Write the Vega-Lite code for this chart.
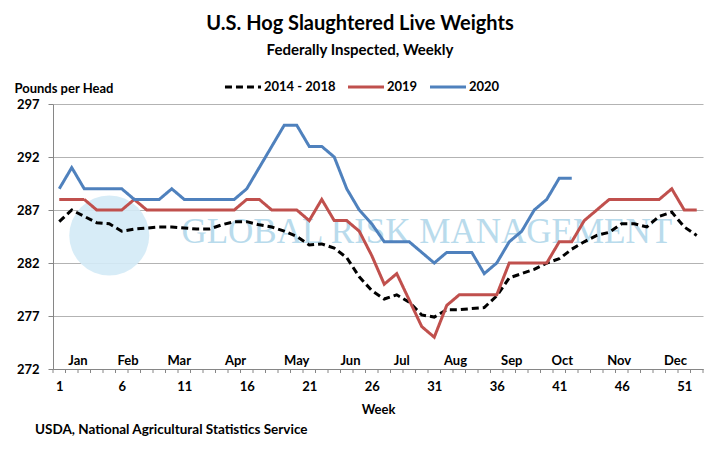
{
  "$schema": "https://vega.github.io/schema/vega-lite/v6.json",
  "width": 650,
  "height": 265,
  "autosize": "none",
  "padding": {"left": 53, "top": 104, "right": 18, "bottom": 82},
  "background": "white",
  "title": {
    "text": "U.S. Hog Slaughtered Live Weights",
    "subtitle": "Federally Inspected, Weekly",
    "anchor": "middle",
    "frame": "group",
    "dx": -18,
    "offset": 9,
    "font": "Lato",
    "fontSize": 20,
    "fontWeight": "bold",
    "color": "#000000",
    "subtitleFont": "Lato",
    "subtitleFontSize": 15,
    "subtitleFontWeight": "bold",
    "subtitleColor": "#000000",
    "subtitlePadding": 9
  },
  "config": {
    "view": {"stroke": null},
    "axis": {"labelFont": "Lato", "titleFont": "Lato", "labelColor": "#000000", "titleColor": "#000000"},
    "legend": {"labelFont": "Lato"}
  },
  "datasets": {
    "weights": [
      {"week": 1, "series": "2014 - 2018", "value": 285.9},
      {"week": 2, "series": "2014 - 2018", "value": 287.0},
      {"week": 3, "series": "2014 - 2018", "value": 286.4},
      {"week": 4, "series": "2014 - 2018", "value": 285.8},
      {"week": 5, "series": "2014 - 2018", "value": 285.7},
      {"week": 6, "series": "2014 - 2018", "value": 285.0},
      {"week": 7, "series": "2014 - 2018", "value": 285.2},
      {"week": 8, "series": "2014 - 2018", "value": 285.3},
      {"week": 9, "series": "2014 - 2018", "value": 285.4},
      {"week": 10, "series": "2014 - 2018", "value": 285.4},
      {"week": 11, "series": "2014 - 2018", "value": 285.3},
      {"week": 12, "series": "2014 - 2018", "value": 285.2},
      {"week": 13, "series": "2014 - 2018", "value": 285.2},
      {"week": 14, "series": "2014 - 2018", "value": 285.6},
      {"week": 15, "series": "2014 - 2018", "value": 285.9},
      {"week": 16, "series": "2014 - 2018", "value": 285.9},
      {"week": 17, "series": "2014 - 2018", "value": 285.6},
      {"week": 18, "series": "2014 - 2018", "value": 285.4},
      {"week": 19, "series": "2014 - 2018", "value": 285.0},
      {"week": 20, "series": "2014 - 2018", "value": 284.5},
      {"week": 21, "series": "2014 - 2018", "value": 283.7},
      {"week": 22, "series": "2014 - 2018", "value": 283.8},
      {"week": 23, "series": "2014 - 2018", "value": 283.4},
      {"week": 24, "series": "2014 - 2018", "value": 282.5},
      {"week": 25, "series": "2014 - 2018", "value": 280.7},
      {"week": 26, "series": "2014 - 2018", "value": 279.4},
      {"week": 27, "series": "2014 - 2018", "value": 278.6},
      {"week": 28, "series": "2014 - 2018", "value": 279.0},
      {"week": 29, "series": "2014 - 2018", "value": 278.3},
      {"week": 30, "series": "2014 - 2018", "value": 277.1},
      {"week": 31, "series": "2014 - 2018", "value": 276.9},
      {"week": 32, "series": "2014 - 2018", "value": 277.6},
      {"week": 33, "series": "2014 - 2018", "value": 277.6},
      {"week": 34, "series": "2014 - 2018", "value": 277.7},
      {"week": 35, "series": "2014 - 2018", "value": 277.8},
      {"week": 36, "series": "2014 - 2018", "value": 278.9},
      {"week": 37, "series": "2014 - 2018", "value": 280.6},
      {"week": 38, "series": "2014 - 2018", "value": 281.0},
      {"week": 39, "series": "2014 - 2018", "value": 281.4},
      {"week": 40, "series": "2014 - 2018", "value": 282.0},
      {"week": 41, "series": "2014 - 2018", "value": 282.4},
      {"week": 42, "series": "2014 - 2018", "value": 283.3},
      {"week": 43, "series": "2014 - 2018", "value": 284.0},
      {"week": 44, "series": "2014 - 2018", "value": 284.6},
      {"week": 45, "series": "2014 - 2018", "value": 284.9},
      {"week": 46, "series": "2014 - 2018", "value": 285.7},
      {"week": 47, "series": "2014 - 2018", "value": 285.7},
      {"week": 48, "series": "2014 - 2018", "value": 285.4},
      {"week": 49, "series": "2014 - 2018", "value": 286.4},
      {"week": 50, "series": "2014 - 2018", "value": 286.8},
      {"week": 51, "series": "2014 - 2018", "value": 285.4},
      {"week": 52, "series": "2014 - 2018", "value": 284.6},
      {"week": 1, "series": "2019", "value": 288},
      {"week": 2, "series": "2019", "value": 288},
      {"week": 3, "series": "2019", "value": 288},
      {"week": 4, "series": "2019", "value": 287},
      {"week": 5, "series": "2019", "value": 287},
      {"week": 6, "series": "2019", "value": 287},
      {"week": 7, "series": "2019", "value": 288},
      {"week": 8, "series": "2019", "value": 287},
      {"week": 9, "series": "2019", "value": 287},
      {"week": 10, "series": "2019", "value": 287},
      {"week": 11, "series": "2019", "value": 287},
      {"week": 12, "series": "2019", "value": 287},
      {"week": 13, "series": "2019", "value": 287},
      {"week": 14, "series": "2019", "value": 287},
      {"week": 15, "series": "2019", "value": 287},
      {"week": 16, "series": "2019", "value": 288},
      {"week": 17, "series": "2019", "value": 288},
      {"week": 18, "series": "2019", "value": 287},
      {"week": 19, "series": "2019", "value": 287},
      {"week": 20, "series": "2019", "value": 287},
      {"week": 21, "series": "2019", "value": 286},
      {"week": 22, "series": "2019", "value": 288},
      {"week": 23, "series": "2019", "value": 286},
      {"week": 24, "series": "2019", "value": 286},
      {"week": 25, "series": "2019", "value": 285},
      {"week": 26, "series": "2019", "value": 282.7},
      {"week": 27, "series": "2019", "value": 280},
      {"week": 28, "series": "2019", "value": 281},
      {"week": 29, "series": "2019", "value": 278.5},
      {"week": 30, "series": "2019", "value": 276},
      {"week": 31, "series": "2019", "value": 275},
      {"week": 32, "series": "2019", "value": 278},
      {"week": 33, "series": "2019", "value": 279},
      {"week": 34, "series": "2019", "value": 279},
      {"week": 35, "series": "2019", "value": 279},
      {"week": 36, "series": "2019", "value": 279},
      {"week": 37, "series": "2019", "value": 282},
      {"week": 38, "series": "2019", "value": 282},
      {"week": 39, "series": "2019", "value": 282},
      {"week": 40, "series": "2019", "value": 282},
      {"week": 41, "series": "2019", "value": 284},
      {"week": 42, "series": "2019", "value": 284},
      {"week": 43, "series": "2019", "value": 286},
      {"week": 44, "series": "2019", "value": 287},
      {"week": 45, "series": "2019", "value": 288},
      {"week": 46, "series": "2019", "value": 288},
      {"week": 47, "series": "2019", "value": 288},
      {"week": 48, "series": "2019", "value": 288},
      {"week": 49, "series": "2019", "value": 288},
      {"week": 50, "series": "2019", "value": 289},
      {"week": 51, "series": "2019", "value": 287},
      {"week": 52, "series": "2019", "value": 287},
      {"week": 1, "series": "2020", "value": 289},
      {"week": 2, "series": "2020", "value": 291},
      {"week": 3, "series": "2020", "value": 289},
      {"week": 4, "series": "2020", "value": 289},
      {"week": 5, "series": "2020", "value": 289},
      {"week": 6, "series": "2020", "value": 289},
      {"week": 7, "series": "2020", "value": 288},
      {"week": 8, "series": "2020", "value": 288},
      {"week": 9, "series": "2020", "value": 288},
      {"week": 10, "series": "2020", "value": 289},
      {"week": 11, "series": "2020", "value": 288},
      {"week": 12, "series": "2020", "value": 288},
      {"week": 13, "series": "2020", "value": 288},
      {"week": 14, "series": "2020", "value": 288},
      {"week": 15, "series": "2020", "value": 288},
      {"week": 16, "series": "2020", "value": 289},
      {"week": 17, "series": "2020", "value": 291},
      {"week": 18, "series": "2020", "value": 293},
      {"week": 19, "series": "2020", "value": 295},
      {"week": 20, "series": "2020", "value": 295},
      {"week": 21, "series": "2020", "value": 293},
      {"week": 22, "series": "2020", "value": 293},
      {"week": 23, "series": "2020", "value": 292},
      {"week": 24, "series": "2020", "value": 289},
      {"week": 25, "series": "2020", "value": 287},
      {"week": 26, "series": "2020", "value": 285.7},
      {"week": 27, "series": "2020", "value": 284},
      {"week": 28, "series": "2020", "value": 284},
      {"week": 29, "series": "2020", "value": 284},
      {"week": 30, "series": "2020", "value": 283},
      {"week": 31, "series": "2020", "value": 282},
      {"week": 32, "series": "2020", "value": 283},
      {"week": 33, "series": "2020", "value": 283},
      {"week": 34, "series": "2020", "value": 283},
      {"week": 35, "series": "2020", "value": 281},
      {"week": 36, "series": "2020", "value": 282},
      {"week": 37, "series": "2020", "value": 284},
      {"week": 38, "series": "2020", "value": 285},
      {"week": 39, "series": "2020", "value": 287},
      {"week": 40, "series": "2020", "value": 288},
      {"week": 41, "series": "2020", "value": 290},
      {"week": 42, "series": "2020", "value": 290}
    ],
    "months": [
      {"month": "Jan", "week": 2.5},
      {"month": "Feb", "week": 6.5},
      {"month": "Mar", "week": 10.6},
      {"month": "Apr", "week": 15.1},
      {"month": "May", "week": 20.0},
      {"month": "Jun", "week": 24.3},
      {"month": "Jul", "week": 28.4},
      {"month": "Aug", "week": 32.7},
      {"month": "Sep", "week": 37.2},
      {"month": "Oct", "week": 41.25},
      {"month": "Nov", "week": 45.8},
      {"month": "Dec", "week": 50.3}
    ],
    "weekBounds": [
      {"edge": 0.5}, {"edge": 1.5}, {"edge": 2.5}, {"edge": 3.5}, {"edge": 4.5}, {"edge": 5.5}, {"edge": 6.5}, {"edge": 7.5}, {"edge": 8.5}, {"edge": 9.5},
      {"edge": 10.5}, {"edge": 11.5}, {"edge": 12.5}, {"edge": 13.5}, {"edge": 14.5}, {"edge": 15.5}, {"edge": 16.5}, {"edge": 17.5}, {"edge": 18.5}, {"edge": 19.5},
      {"edge": 20.5}, {"edge": 21.5}, {"edge": 22.5}, {"edge": 23.5}, {"edge": 24.5}, {"edge": 25.5}, {"edge": 26.5}, {"edge": 27.5}, {"edge": 28.5}, {"edge": 29.5},
      {"edge": 30.5}, {"edge": 31.5}, {"edge": 32.5}, {"edge": 33.5}, {"edge": 34.5}, {"edge": 35.5}, {"edge": 36.5}, {"edge": 37.5}, {"edge": 38.5}, {"edge": 39.5},
      {"edge": 40.5}, {"edge": 41.5}, {"edge": 42.5}, {"edge": 43.5}, {"edge": 44.5}, {"edge": 45.5}, {"edge": 46.5}, {"edge": 47.5}, {"edge": 48.5}, {"edge": 49.5},
      {"edge": 50.5}, {"edge": 51.5}, {"edge": 52.5}
    ],
    "watermark": [
      {"label": "GLOBAL RISK MANAGEMENT", "week": 30.4, "value": 284.9, "globeWeek": 5.0, "globeValue": 284.6}
    ]
  },
  "layer": [
    {
      "data": {"name": "watermark"},
      "mark": {"type": "point", "shape": "circle", "filled": true, "size": 6400, "color": "#d3eaf6", "opacity": 0.9},
      "encoding": {
        "x": {"field": "globeWeek", "type": "quantitative", "scale": {"domain": [0.5, 52.5], "nice": false, "zero": false}},
        "y": {"field": "globeValue", "type": "quantitative", "scale": {"domain": [272, 297], "nice": false, "zero": false}}
      }
    },
    {
      "data": {"name": "watermark"},
      "mark": {"type": "text", "font": "Liberation Serif", "fontSize": 35, "color": "#b9dbec", "align": "center", "baseline": "middle"},
      "encoding": {
        "x": {"field": "week", "type": "quantitative"},
        "y": {"field": "value", "type": "quantitative"},
        "text": {"field": "label"}
      }
    },
    {
      "data": {"name": "weekBounds"},
      "mark": {"type": "rule", "color": "#868686", "strokeWidth": 1, "y2Offset": 4},
      "encoding": {
        "x": {"field": "edge", "type": "quantitative"},
        "y": {"datum": 272, "type": "quantitative"},
        "y2": {"datum": 272}
      }
    },
    {
      "data": {"name": "weights"},
      "mark": {"type": "line", "strokeWidth": 3, "strokeJoin": "miter"},
      "encoding": {
        "x": {
          "field": "week",
          "type": "quantitative",
          "scale": {"domain": [0.5, 52.5], "nice": false, "zero": false},
          "axis": {
            "values": [1, 6, 11, 16, 21, 26, 31, 36, 41, 46, 51],
            "format": "d",
            "labelOverlap": false,
            "labelBound": false,
            "labelFlush": false,
            "labelFontSize": 13,
            "labelFontWeight": "bold",
            "labelPadding": 11,
            "grid": false,
            "ticks": false,
            "domainColor": "#868686",
            "title": "Week",
            "titleFontSize": 13,
            "titleFontWeight": "bold",
            "titlePadding": 10
          }
        },
        "y": {
          "field": "value",
          "type": "quantitative",
          "scale": {"domain": [272, 297], "nice": false, "zero": false},
          "axis": {
            "values": [272, 277, 282, 287, 292, 297],
            "grid": true,
            "gridColor": "#b3b3b3",
            "gridWidth": 1,
            "domainColor": "#868686",
            "tickColor": "#868686",
            "tickSize": 5,
            "labelFontSize": 13,
            "labelFontWeight": "bold",
            "labelPadding": 9,
            "title": "Pounds per Head",
            "titleAngle": 0,
            "titleX": -39,
            "titleY": -16,
            "titleAlign": "left",
            "titleBaseline": "middle",
            "titleFontSize": 13,
            "titleFontWeight": "bold"
          }
        },
        "color": {
          "field": "series",
          "type": "nominal",
          "scale": {"domain": ["2014 - 2018", "2019", "2020"], "range": ["#000000", "#c0504d", "#4f81bd"]},
          "legend": {
            "title": null,
            "orient": "none",
            "legendX": 170,
            "legendY": -37,
            "direction": "horizontal",
            "symbolType": "stroke",
            "symbolSize": 1300,
            "symbolStrokeWidth": 3,
            "labelFontSize": 13,
            "labelFontWeight": "bold",
            "labelColor": "#000000",
            "labelOffset": 1,
            "columnPadding": 5
          }
        },
        "strokeDash": {
          "field": "series",
          "type": "nominal",
          "scale": {"domain": ["2014 - 2018", "2019", "2020"], "range": [[7, 4], [1, 0], [1, 0]]},
          "legend": null
        }
      }
    },
    {
      "data": {"name": "months"},
      "mark": {"type": "text", "font": "Lato", "fontSize": 13, "fontWeight": "bold", "color": "#000000", "baseline": "middle", "dy": -8},
      "encoding": {
        "x": {"field": "week", "type": "quantitative"},
        "y": {"datum": 272, "type": "quantitative"},
        "text": {"field": "month"}
      }
    },
    {
      "data": {"values": [{"source": "USDA, National Agricultural Statistics Service"}]},
      "mark": {"type": "text", "font": "Lato", "fontSize": 13.5, "fontWeight": "bold", "color": "#000000", "align": "left", "baseline": "middle", "x": -18, "y": 326},
      "encoding": {
        "text": {"field": "source"}
      }
    }
  ]
}
